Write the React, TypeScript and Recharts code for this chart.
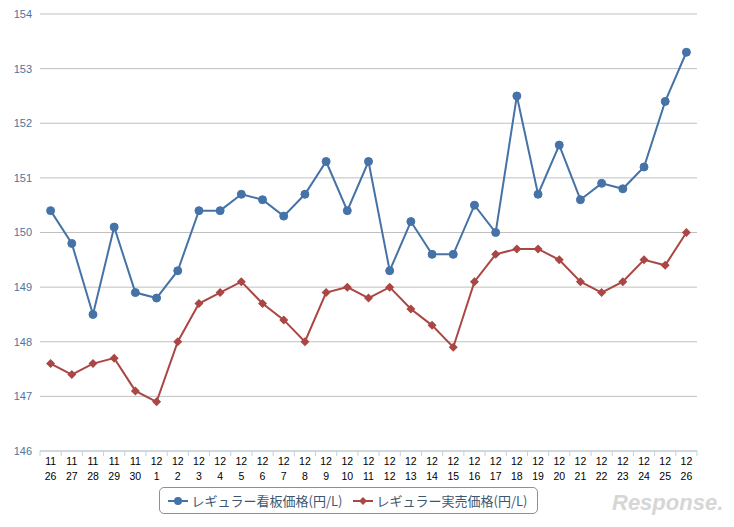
import { CartesianGrid, Legend, Line, LineChart, XAxis, YAxis } from "recharts";

const months = ["11", "11", "11", "11", "11", "12", "12", "12", "12", "12", "12", "12", "12", "12", "12", "12", "12", "12", "12", "12", "12", "12", "12", "12", "12", "12", "12", "12", "12", "12", "12"];
const days = ["26", "27", "28", "29", "30", "1", "2", "3", "4", "5", "6", "7", "8", "9", "10", "11", "12", "13", "14", "15", "16", "17", "18", "19", "20", "21", "22", "23", "24", "25", "26"];
const listPrice = [150.4, 149.8, 148.5, 150.1, 148.9, 148.8, 149.3, 150.4, 150.4, 150.7, 150.6, 150.3, 150.7, 151.3, 150.4, 151.3, 149.3, 150.2, 149.6, 149.6, 150.5, 150.0, 152.5, 150.7, 151.6, 150.6, 150.9, 150.8, 151.2, 152.4, 153.3];
const actualPrice = [147.6, 147.4, 147.6, 147.7, 147.1, 146.9, 148.0, 148.7, 148.9, 149.1, 148.7, 148.4, 148.0, 148.9, 149.0, 148.8, 149.0, 148.6, 148.3, 147.9, 149.1, 149.6, 149.7, 149.7, 149.5, 149.1, 148.9, 149.1, 149.5, 149.4, 150.0];
const yTicks = [146, 147, 148, 149, 150, 151, 152, 153, 154];

const data = days.map((d, i) => ({
  key: i,
  month: months[i],
  day: d,
  list: listPrice[i],
  actual: actualPrice[i],
}));

const BLUE = "#4572A7";
const RED = "#AA4643";
const W = 734;
const H = 527;
const plotLeft = 40;
const plotRight = 37;
const band = (W - plotLeft - plotRight) / data.length;

function DateTick(props: any) {
  const { x, y, payload, index } = props;
  const row = data[payload.value];
  const isLast = index === data.length - 1;
  return (
    <g>
      <line x1={x - band / 2} y1={y - 8} x2={x - band / 2} y2={y - 3} stroke="#C0D0E0" />
      {isLast && <line x1={x + band / 2} y1={y - 8} x2={x + band / 2} y2={y - 3} stroke="#C0D0E0" />}
      <text x={x} y={y} textAnchor="middle" fontSize={10.5} fill="#000" fontFamily="'Liberation Sans', Arial, sans-serif">
        <tspan x={x} dy={6}>{row.month}</tspan>
        <tspan x={x} dy={15}>{row.day}</tspan>
      </text>
    </g>
  );
}

function Diamond(props: any) {
  const { cx, cy } = props;
  if (cx == null || cy == null) return null;
  const r = 4.5;
  return <path d={`M${cx},${cy - r}L${cx + r},${cy}L${cx},${cy + r}L${cx - r},${cy}Z`} fill={RED} />;
}

function LegendBox() {
  const item = (color: string, label: string, diamond: boolean) => (
    <span style={{ display: "inline-flex", alignItems: "center", marginRight: 10 }}>
      <svg width={20} height={12} style={{ marginRight: 4 }}>
        <line x1={0} y1={6} x2={20} y2={6} stroke={color} strokeWidth={2} />
        {diamond ? <path d="M10,2L14,6L10,10L6,6Z" fill={color} /> : <circle cx={10} cy={6} r={4} fill={color} />}
      </svg>
      {label}
    </span>
  );
  return (
    <div style={{ display: "flex", justifyContent: "center" }}>
      <div
        style={{
          border: "1px solid #909090",
          borderRadius: 5,
          height: 25,
          padding: "0 0 0 8px",
          display: "flex",
          alignItems: "center",
          fontSize: 13,
          color: "#3E576F",
          fontFamily: "'Noto Sans CJK JP', sans-serif",
        }}
      >
        {item(BLUE, "レギュラー看板価格(円/L)", false)}
        {item(RED, "レギュラー実売価格(円/L)", true)}
      </div>
    </div>
  );
}

export default function App() {
  return (
    <div style={{ position: "absolute", left: 0, top: 0, width: W, height: H, background: "#fff" }}>
      <LineChart width={W} height={H} data={data} margin={{ top: 14, right: plotRight, bottom: 12, left: 0 }}>
        <CartesianGrid horizontal vertical={false} stroke="#C0C0C0" />
        <XAxis
          dataKey="key"
          type="category"
          stroke="#C0D0E0"
          tickLine={false}
          interval={0}
          height={36}
          padding={{ left: band / 2, right: band / 2 }}
          tick={<DateTick />}
        />
        <YAxis
          domain={[146, 154]}
          ticks={yTicks}
          width={plotLeft}
          axisLine={false}
          tickLine={false}
          tick={{ fill: "#4D759E", fontSize: 11, fontFamily: "'Liberation Sans', Arial, sans-serif" }}
        />
        <Legend verticalAlign="bottom" height={28} content={() => <LegendBox />} />
        <Line
          dataKey="list"
          name="レギュラー看板価格(円/L)"
          stroke={BLUE}
          strokeWidth={2}
          dot={{ r: 4, fill: BLUE, stroke: BLUE, strokeWidth: 1 }}
          isAnimationActive={false}
        />
        <Line
          dataKey="actual"
          name="レギュラー実売価格(円/L)"
          stroke={RED}
          strokeWidth={2}
          dot={<Diamond />}
          isAnimationActive={false}
        />
      </LineChart>
      <div
        style={{
          position: "absolute",
          left: 612,
          top: 490,
          fontSize: 22,
          fontStyle: "italic",
          fontWeight: "bold",
          color: "#D6D6D6",
          fontFamily: "'Liberation Sans', Arial, sans-serif",
        }}
      >
        Response.
      </div>
    </div>
  );
}
